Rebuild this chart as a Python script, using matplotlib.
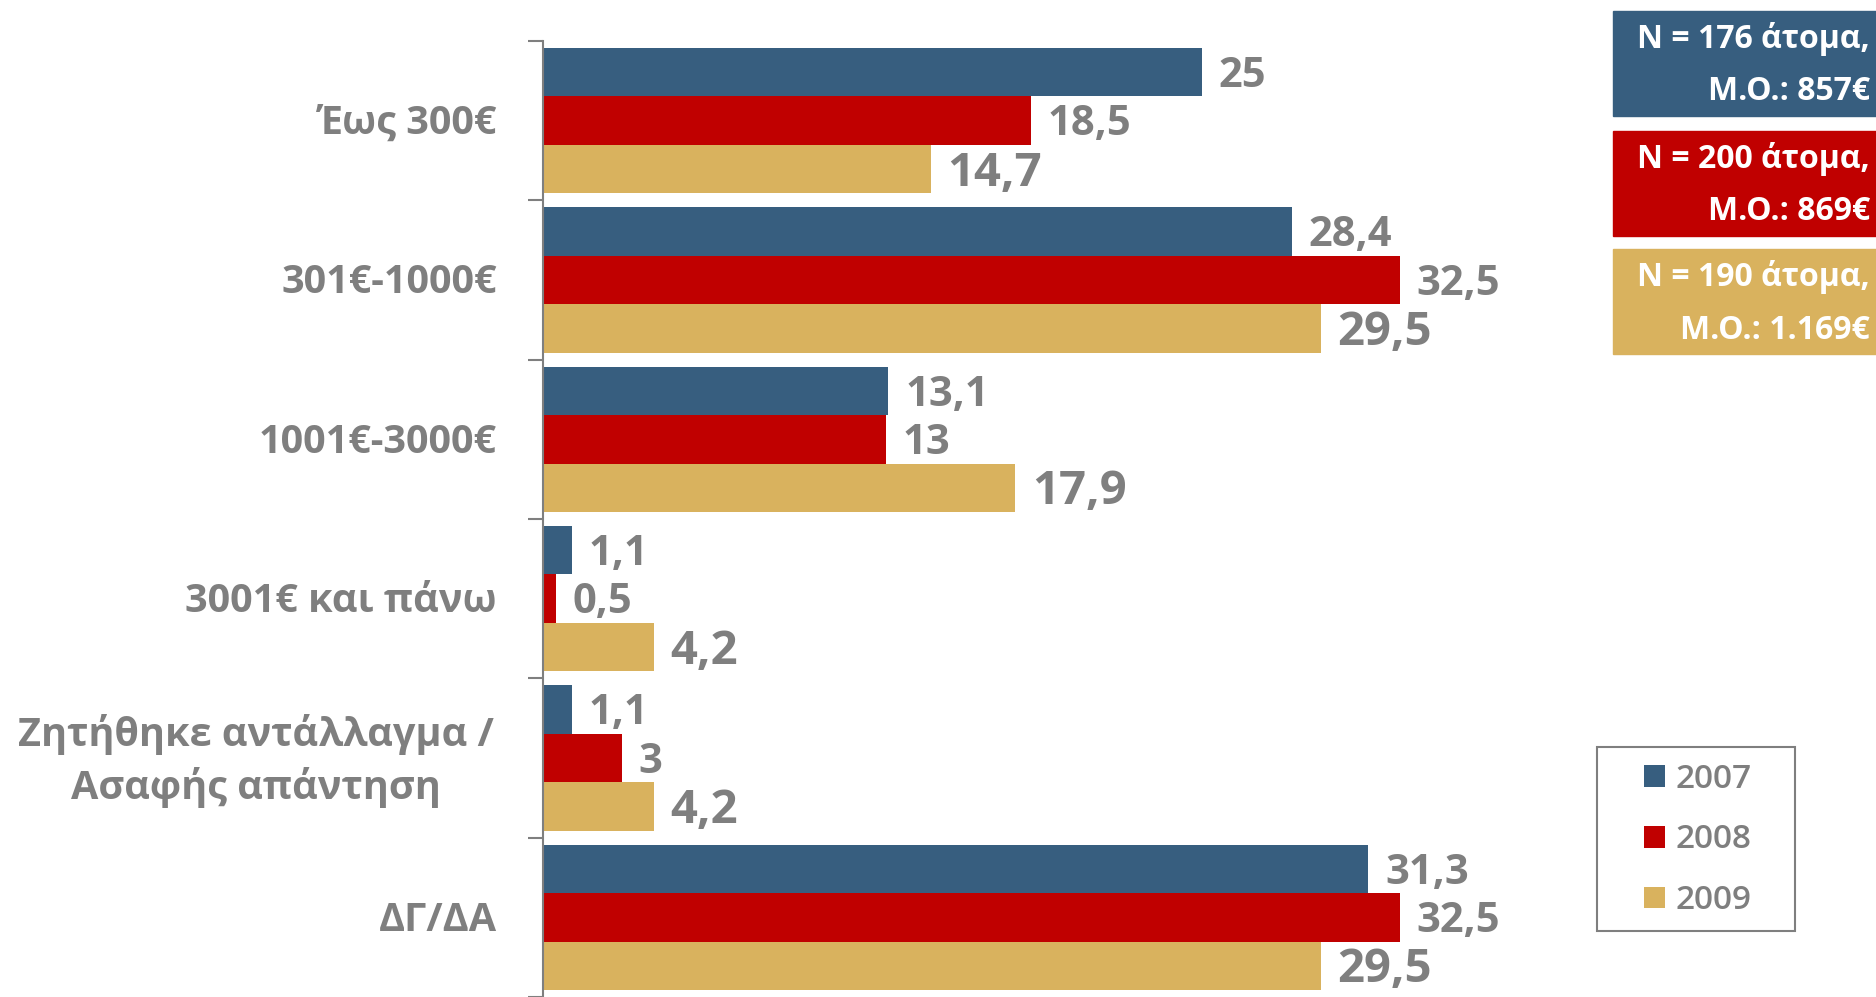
import matplotlib.pyplot as plt
from matplotlib.patches import Rectangle

plt.rcParams['font.family'] = ['Open Sans', 'DejaVu Sans']

# Data
categories = ['Έως 300€', '301€-1000€', '1001€-3000€', '3001€ και πάνω',
              'Ζητήθηκε αντάλλαγμα /\nΑσαφής απάντηση', 'ΔΓ/ΔΑ']
years = ['2007', '2008', '2009']
v2007 = [25, 28.4, 13.1, 1.1, 1.1, 31.3]
v2008 = [18.5, 32.5, 13, 0.5, 3, 32.5]
v2009 = [14.7, 29.5, 17.9, 4.2, 4.2, 29.5]
box_texts = [('N = 176 άτομα,', 'Μ.Ο.: 857€'),
             ('N = 200 άτομα,', 'Μ.Ο.: 869€'),
             ('N = 190 άτομα,', 'Μ.Ο.: 1.169€')]

colors = ['#375E7F', '#C00000', '#D9B25E']
gray = '#7F7F7F'

W, H = 1876, 997
fig = plt.figure(figsize=(W / 100, H / 100), dpi=100)


def fx(px):
    return px / W


def fy(py):
    return 1 - py / H


ax = fig.add_axes([fx(543), 0, fx(1000), fy(41)])

bar_h = 0.3035
series = [v2007, v2008, v2009]
label_sizes = [30, 30, 34]
for k, (vals, col) in enumerate(zip(series, colors)):
    ys = [i + (k - 1) * bar_h for i in range(len(categories))]
    ax.barh(ys, vals, height=bar_h, color=col, label=years[k])
    for y, v in zip(ys, vals):
        txt = str(v).replace('.', ',')
        ax.annotate(txt, (v, y), xytext=(12, -3), textcoords='offset points',
                    va='center', ha='left', fontsize=label_sizes[k],
                    fontweight='bold', color=gray)

ax.set_xlim(0, 1000 / 26.37)
ax.set_ylim(len(categories) - 0.5, -0.5)

# category boundary ticks
ax.set_yticks([i - 0.5 for i in range(len(categories) + 1)])
ax.set_yticklabels([])
ax.tick_params(axis='y', length=11, width=1.5, color=gray, direction='out')
ax.set_xticks([])
for s in ['top', 'right', 'bottom']:
    ax.spines[s].set_visible(False)
ax.spines['left'].set_color(gray)
ax.spines['left'].set_linewidth(1.5)

# category labels
ytr = ax.get_yaxis_transform()
for i, cat in enumerate(categories):
    if '\n' in cat:
        ax.annotate(cat, ((256 - 543) / 1000, i), xycoords=ytr,
                    xytext=(0, -2), textcoords='offset points',
                    ha='center', va='center', multialignment='center',
                    fontsize=28.5, fontweight='bold', color=gray, linespacing=1.36)
    else:
        ax.annotate(cat, ((497 - 543) / 1000, i), xycoords=ytr,
                    xytext=(0, -2), textcoords='offset points',
                    ha='right', va='center', fontsize=28.5, fontweight='bold',
                    color=gray)

# sample size boxes
box_tops = [11, 131, 249]
for top, col, (l1, l2) in zip(box_tops, colors, box_texts):
    fig.patches.append(Rectangle((fx(1613), fy(top + 105)), fx(W - 1613), 105 / H,
                                 transform=fig.transFigure, color=col, zorder=0))
    fig.text(fx(1870), fy(top + 28), l1, ha='right', va='center', fontsize=23,
             fontweight='bold', color='white')
    fig.text(fx(1870), fy(top + 81), l2, ha='right', va='center', fontsize=23,
             fontweight='bold', color='white')

# legend with separate frame
fig.patches.append(Rectangle((fx(1597), fy(931)), fx(1795 - 1597), (931 - 747) / H,
                             transform=fig.transFigure, fill=False,
                             edgecolor=gray, linewidth=1.5))
leg = fig.legend(loc='center', bbox_to_anchor=(fx(1698), fy(840)),
                 handlelength=0.63, handleheight=0.63,
                 handletextpad=0.3, labelspacing=0.83, borderpad=0,
                 borderaxespad=0, frameon=False,
                 prop={'weight': 'semibold', 'size': 24})
for t in leg.get_texts():
    t.set_color(gray)

fig.savefig('out.png', dpi=100)
